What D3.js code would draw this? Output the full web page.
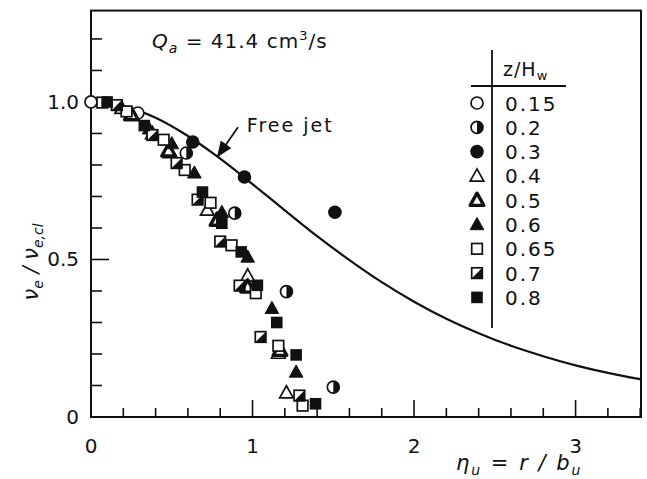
<!DOCTYPE html>
<html><head><meta charset="utf-8">
<script src="https://cdn.jsdelivr.net/npm/d3@7"></script>
<style>
body{margin:0;background:#fff;}
svg text{font-family:"DejaVu Sans",sans-serif;fill:#111;}
</style></head>
<body><svg id="c" width="647" height="479"></svg>
<script>
// ---- data ----
const xTickLabels = ["0","1","2","3"];
const yTickLabels = ["0","0.5","1.0"];
const legendLabels = ["0.15","0.2","0.3","0.4","0.5","0.6","0.65","0.7","0.8"];
const legendKinds = ["openCircle","halfCircle","filledCircle","openTri","halfTri","filledTri","openSq","halfSq","filledSq"];

const s015 = [[0,1.0],[0.29,0.965]];
const s02  = [[0.59,0.838],[0.89,0.647],[1.21,0.398],[1.50,0.095]];
const s03  = [[0.63,0.873],[0.95,0.762],[1.51,0.650]];
const s04  = [[0.19,0.98],[0.38,0.90],[0.49,0.84],[0.72,0.657],[0.97,0.448],[1.16,0.203],[1.21,0.077]];
const s05  = [[0.25,0.96],[0.48,0.845],[0.78,0.625],[0.97,0.413],[1.17,0.212]];
const s06  = [[0.36,0.915],[0.50,0.868],[0.64,0.775],[0.81,0.650],[0.97,0.508],[1.12,0.345],[1.27,0.143]];
const s065 = [[0.07,0.998],[0.22,0.97],[0.45,0.88],[0.58,0.784],[0.74,0.68],[0.87,0.545],[1.02,0.393],[1.16,0.226],[1.31,0.036]];
const s07  = [[0.16,0.99],[0.38,0.895],[0.53,0.806],[0.66,0.69],[0.80,0.557],[0.92,0.417],[1.05,0.254],[1.29,0.068]];
const s08  = [[0.10,1.0],[0.33,0.925],[0.69,0.714],[0.81,0.615],[0.93,0.524],[1.03,0.418],[1.15,0.300],[1.27,0.197],[1.39,0.042]];
const seriesData = [s015,s02,s03,s04,s05,s06,s065,s07,s08];

const freeJetEta = [0,0.2,0.4,0.6,0.8,1.0,1.2,1.4,1.6,1.8,2.0,2.2,2.4,2.6,2.8,3.0,3.2,3.4];
const freeJetV   = [1.0,0.987,0.950,0.892,0.820,0.739,0.656,0.574,0.498,0.428,0.366,0.312,0.266,0.226,0.193,0.164,0.140,0.120];

// ---- layout ----
const svg = d3.select("#c");
const x = d3.scaleLinear().domain([0,3.405]).range([91,641]);
const y = d3.scaleLinear().domain([0,1.29]).range([417,10.6]);
const ink = "#111";

// frame
svg.append("rect").attr("x",91).attr("y",y(1.29)).attr("width",641-91).attr("height",417-y(1.29))
  .attr("fill","none").attr("stroke",ink).attr("stroke-width",2);

// x ticks (inward)
const xMinor = d3.range(0,3.41,0.2).map(v=>+v.toFixed(1));
const xAx = svg.append("g").attr("transform","translate(0,417)");
xAx.selectAll("line").data(xMinor).join("line")
  .attr("x1",d=>x(d)).attr("x2",d=>x(d)).attr("y1",0)
  .attr("y2",d=>Math.abs(d-Math.round(d))<1e-6 ? -17 : -9)
  .attr("stroke",ink).attr("stroke-width",1.6);
xAx.selectAll("text").data(xTickLabels).join("text")
  .attr("x",d=>x(+d)).attr("y",36).attr("text-anchor","middle")
  .attr("font-size",20).text(d=>d);

// y ticks (inward)
const yMinor = d3.range(0,1.29,0.1).map(v=>+v.toFixed(1));
const yAx = svg.append("g").attr("transform","translate(91,0)");
yAx.selectAll("line").data(yMinor).join("line")
  .attr("y1",d=>y(d)).attr("y2",d=>y(d)).attr("x1",0)
  .attr("x2",d=>Math.abs(d*2-Math.round(d*2))<1e-6 ? 18 : 11)
  .attr("stroke",ink).attr("stroke-width",1.6);
yAx.selectAll("text").data(yTickLabels).join("text")
  .attr("x",-12).attr("y",d=>y(+d)+7).attr("text-anchor","end")
  .attr("font-size",20).text(d=>d);

// axis titles
const yt = svg.append("text").attr("transform","translate(38,262) rotate(-90)")
  .attr("text-anchor","middle").attr("font-size",21).attr("font-style","italic");
yt.append("tspan").text("ν");
yt.append("tspan").attr("font-size",14).attr("dy",5).text("e");
yt.append("tspan").attr("dy",-5).text(" / ν");
yt.append("tspan").attr("font-size",14).attr("dy",5).text("e,cl");

const xt = svg.append("text").attr("x",456).attr("y",470).attr("font-size",21).attr("font-style","italic").attr("letter-spacing",2);
xt.append("tspan").text("η");
xt.append("tspan").attr("font-size",14).attr("dy",5).text("u");
xt.append("tspan").attr("dy",-5).attr("font-style","normal").text(" = ");
xt.append("tspan").text("r / b");
xt.append("tspan").attr("font-size",14).attr("dy",5).text("u");

// Q_a annotation
const qa = svg.append("text").attr("x",152).attr("y",48).attr("font-size",20).attr("letter-spacing",1);
qa.append("tspan").attr("font-style","italic").text("Q");
qa.append("tspan").attr("font-style","italic").attr("font-size",14).attr("dy",5).text("a");
qa.append("tspan").attr("dy",-5).text(" = 41.4 cm");
qa.append("tspan").attr("font-size",13).attr("dy",-8).text("3");
qa.append("tspan").attr("dy",8).text("/s");

// free jet curve
const line = d3.line().x(d=>x(d[0])).y(d=>y(d[1])).curve(d3.curveMonotoneX);
svg.append("path").datum(freeJetEta.map((e,i)=>[e,freeJetV[i]]))
  .attr("d",line).attr("fill","none").attr("stroke",ink).attr("stroke-width",2.2);

// Free jet label + arrow
svg.append("text").attr("x",x(0.965)).attr("y",y(0.905)).attr("font-size",19)
  .attr("letter-spacing",2).text("Free jet");
svg.append("defs").append("marker").attr("id","ah").attr("viewBox","0 0 10 10")
  .attr("refX",9).attr("refY",5).attr("markerWidth",9).attr("markerHeight",9).attr("orient","auto")
  .append("path").attr("d","M0,1 L10,5 L0,9 Z").attr("fill",ink);
svg.append("line").attr("x1",x(0.91)).attr("y1",y(0.92)).attr("x2",x(0.785)).attr("y2",y(0.828))
  .attr("stroke",ink).attr("stroke-width",1.8).attr("marker-end","url(#ah)");

// markers
function drawMarker(g, kind, cx, cy){
  const r=6, h=5.3, sw=1.7;
  const tri = `M${cx},${cy-7} L${cx+6.8},${cy+5.2} L${cx-6.8},${cy+5.2} Z`;
  if(kind==="openCircle"){
    g.append("circle").attr("cx",cx).attr("cy",cy).attr("r",r).attr("fill","#fff").attr("stroke",ink).attr("stroke-width",sw);
  } else if(kind==="filledCircle"){
    g.append("circle").attr("cx",cx).attr("cy",cy).attr("r",r+0.8).attr("fill",ink);
  } else if(kind==="halfCircle"){
    g.append("circle").attr("cx",cx).attr("cy",cy).attr("r",r).attr("fill","#fff").attr("stroke",ink).attr("stroke-width",sw);
    g.append("path").attr("d",`M${cx},${cy-r} A${r},${r} 0 0 1 ${cx},${cy+r} Z`).attr("fill",ink);
  } else if(kind==="openTri"){
    g.append("path").attr("d",tri).attr("fill","#fff").attr("stroke",ink).attr("stroke-width",sw);
  } else if(kind==="halfTri"){
    g.append("path").attr("d",tri).attr("fill","#fff").attr("stroke",ink).attr("stroke-width",3.4).attr("stroke-linejoin","round");
  } else if(kind==="filledTri"){
    g.append("path").attr("d",tri).attr("fill",ink).attr("stroke",ink).attr("stroke-width",1);
  } else if(kind==="openSq"){
    g.append("rect").attr("x",cx-h).attr("y",cy-h).attr("width",2*h).attr("height",2*h).attr("fill","#fff").attr("stroke",ink).attr("stroke-width",sw);
  } else if(kind==="halfSq"){
    g.append("rect").attr("x",cx-h).attr("y",cy-h).attr("width",2*h).attr("height",2*h).attr("fill","#fff").attr("stroke",ink).attr("stroke-width",sw);
    g.append("path").attr("d",`M${cx+h},${cy-h} L${cx+h},${cy+h} L${cx-h},${cy+h} Z`).attr("fill",ink);
  } else if(kind==="filledSq"){
    g.append("rect").attr("x",cx-h-0.5).attr("y",cy-h-0.5).attr("width",2*h+1).attr("height",2*h+1).attr("fill",ink);
  }
}
const mg = svg.append("g");
seriesData.forEach((s,i)=>{
  s.forEach(p=>drawMarker(mg, legendKinds[i], x(p[0]), y(p[1])));
});

// legend
const lg = svg.append("g");
lg.append("line").attr("x1",492).attr("x2",492).attr("y1",50).attr("y2",328).attr("stroke",ink).attr("stroke-width",1.8);
lg.append("line").attr("x1",471).attr("x2",566).attr("y1",86).attr("y2",86).attr("stroke",ink).attr("stroke-width",1.8);
const lh = lg.append("text").attr("x",503).attr("y",76).attr("font-size",19).attr("letter-spacing",1);
lh.append("tspan").text("z/H");
lh.append("tspan").attr("font-size",13).attr("dy",4).text("w");
legendLabels.forEach((lab,i)=>{
  const cy = 103 + i*24.3;
  drawMarker(lg, legendKinds[i], 477, cy);
  lg.append("text").attr("x",505).attr("y",cy+7.5).attr("font-size",20).attr("letter-spacing",2).text(lab);
});
</script>
</body></html>
